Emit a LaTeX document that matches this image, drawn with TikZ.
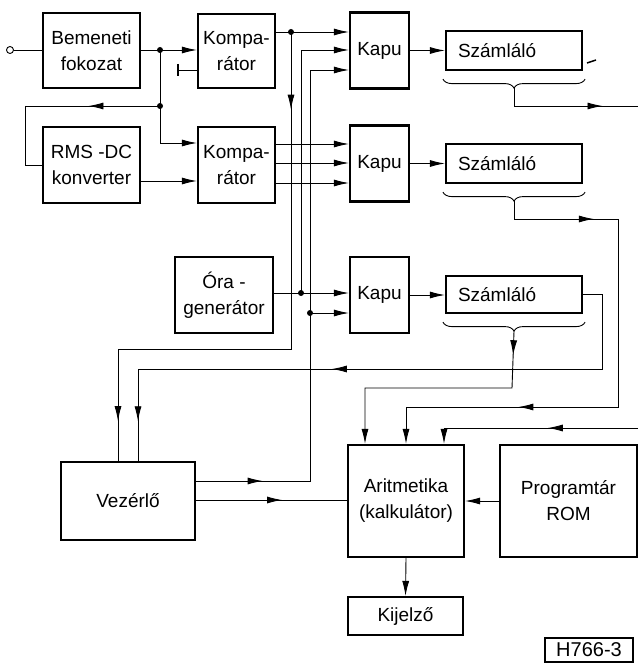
\documentclass[tikz,border=0pt]{standalone}
\usepackage{fontspec}
\setmainfont{Liberation Sans}
\usetikzlibrary{arrows.meta,decorations.pathreplacing,decorations.markings}
\tikzset{
  block/.style = {draw, line width=2.2pt, inner sep=1pt, align=center},
  gate/.style = {block, minimum width=59pt, minimum height=76pt},
  counter/.style = {block, minimum height=39pt, text width=112pt, inner xsep=12pt, align=left},
  terminal/.style = {circle, minimum size=7pt, draw, fill=white, inner sep=0pt},
  arrowat/.style = {postaction={decorate, decoration={markings,
      mark=at position #1 with {\arrow{Latex[length=15pt,width=7pt]}}}}},
}
\begin{document}
\begin{tikzpicture}[x=1pt, y=-1pt, line width=0.9pt, >={Latex[length=15pt,width=7pt]},
  font=\fontsize{19}{26}\selectfont]
\useasboundingbox (0,0) rectangle (638,663);
% blocks
\node[block, minimum width=97pt, minimum height=75pt] (bem) at (91.5,50.5) {Bemeneti\\fokozat};
\node[block, minimum width=77pt, minimum height=74pt] (komp1) at (236.5,51) {Kompa-\\rátor};
\node[block, minimum width=97pt, minimum height=76pt] (rms) at (91.5,165) {RMS -DC\\konverter};
\node[block, minimum width=77pt, minimum height=76pt] (komp2) at (236.5,165) {Kompa-\\rátor};
\node[gate] (kapu1) at (379.5,50.5) {Kapu};
\node[gate] (kapu2) at (379.5,163.5) {Kapu};
\node[gate] (kapu3) at (379.5,295) {Kapu};
\node[counter] (sz1) at (514,50.5) {Számláló};
\node[counter] (sz2) at (514,163.5) {Számláló};
\node[counter, minimum height=37pt] (sz3) at (514,294.5) {Számláló};
\node[block, minimum width=98pt, minimum height=76pt] (ora) at (224,295) {Óra -\\generátor};
\node[block, minimum width=134pt, minimum height=78pt] (vez) at (128,501) {Vezérlő};
\node[block, minimum width=116pt, minimum height=112pt] (arit) at (406,501) {Aritmetika\\(kalkulátor)};
\node[block, minimum width=137pt, minimum height=112pt] (rom) at (568.5,501) {Programtár\\ROM};
\node[block, minimum width=115pt, minimum height=38pt] (kij) at (405.5,616) {Kijelző};
\node[draw, line width=1.2pt, minimum width=88pt, minimum height=24pt,
  font=\fontsize{20}{20}\selectfont] (code) at (589,650) {H766-3};
\node[terminal] (inp) at (10,50) {};

% junctions and corners
\coordinate (j1) at (160,50);
\coordinate (j2) at (160,106);
\coordinate (j3) at (291,32);
\coordinate (j4) at (301,293);
\coordinate (j5) at (310,313);
\coordinate (ref) at (178,70);
\coordinate (fb) at (25,106);
\coordinate (c1) at (118,349);
\coordinate (c5) at (310,481);
\coordinate (c2a) at (618,219);
\coordinate (c2b) at (618,407);
\coordinate (c3) at (512,388);
\coordinate (c4) at (602,369);
\coordinate (o1) at (638,106);
\coordinate (o2) at (638,428);

% input side
\draw (inp) -- (inp -| bem.west);
\draw[->] (bem.east |- j1) -- (j1 -| komp1.west);
\draw (komp1.west |- ref) -- (ref);
\draw[line width=2pt] ([yshift=6pt]ref) -- ([yshift=-6pt]ref);
\draw[->] (j1) |- (komp2.west |- 0,143);
\draw[arrowat=0.53] (j2) -- (fb);
\draw (fb) |- (rms.west);
\draw[->] (rms.east |- 0,181) -- (komp2.west |- 0,181);

% comparators to gates
\draw[->] (komp1.east |- j3) -- (j3 -| kapu1.west);
\foreach \y in {144,163,183}
  \draw[->] (komp2.east |- 0,\y) -- (kapu2.west |- 0,\y);
\draw[->] (j4) |- (kapu1.west |- 0,50);
\draw[->] (ora.east |- j4) -- (j4 -| kapu3.west);
\draw[->, arrowat=0.118] (vez.east |- c5) -- (c5) |- (kapu1.west |- 0,70);
\draw[->] (j5) -- (j5 -| kapu3.west);
\draw[arrowat=0.129, arrowat=0.934] (j3) |- (c1) -- ([xshift=-10pt]vez.north);

% gates to counters
\foreach \i in {1,2,3} {
  \draw[->] (kapu\i.east) -- (sz\i.west |- kapu\i.east);
  \draw[decorate, decoration={brace, mirror, amplitude=9pt}]
    ([xshift=-2pt,yshift=-8pt]sz\i.south west) -- ([xshift=2pt,yshift=-8pt]sz\i.south east);
  \coordinate (b\i) at ([yshift=-17pt]sz\i.south);
}
\draw[line width=1.5pt] (587,63) -- (596,60);

% counters to arithmetic unit
\draw[arrowat=0.75] (b1) |- (o1);
\draw[->, arrowat=0.175, arrowat=0.733] (b2) |- (c2a) -- (c2b) -| (arit.north);
\draw[->, arrowat=0.093] (b3) -- (c3) -| ([xshift=-41pt]arit.north);
\draw[->, arrowat=0.43] (o2) -| ([xshift=38pt]arit.north);
\draw[arrowat=0.56, arrowat=0.939] (sz3.east) -| (c4) -| ([xshift=10pt]vez.north);

% lower part
\draw[arrowat=0.57] (vez.east |- 0,500) -- (arit.west |- 0,500);
\draw[->] (rom.west) -- (arit.east);
\draw[->] (arit.south) -- (kij.north);

% junction dots
\foreach \j in {j1,j2,j3,j4,j5}
  \fill (\j) circle (3pt);
\end{tikzpicture}
\end{document}
